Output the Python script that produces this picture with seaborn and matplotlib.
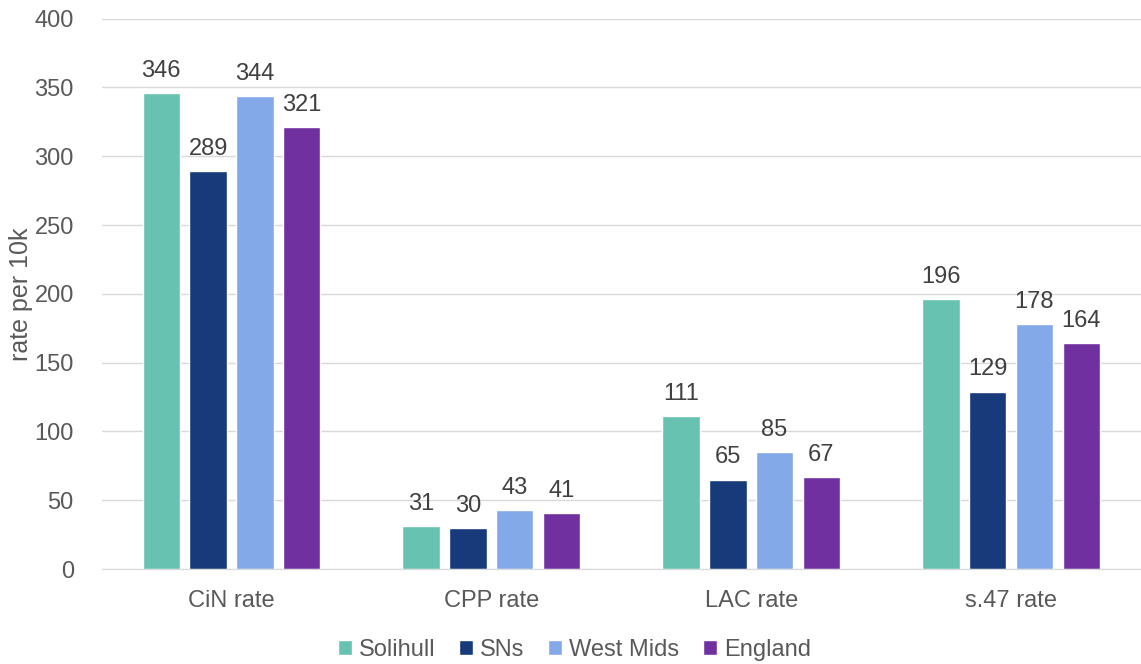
import matplotlib
matplotlib.use("Agg")
import matplotlib.pyplot as plt
import seaborn as sns
import pandas as pd

categories = ["CiN rate", "CPP rate", "LAC rate", "s.47 rate"]
series = ["Solihull", "SNs", "West Mids", "England"]
solihull = [346, 31, 111, 196]
sns_vals = [289, 30, 65, 129]
west_mids = [344, 43, 85, 178]
england = [321, 41, 67, 164]
colors = ["#68c2b1", "#163a7a", "#84a9e8", "#7030a0"]

rows = []
for name, vals in zip(series, [solihull, sns_vals, west_mids, england]):
    for cat, v in zip(categories, vals):
        rows.append({"category": cat, "series": name, "value": v})
df = pd.DataFrame(rows)

sns.set_style("white")
plt.rcParams["font.family"] = ["Liberation Sans", "DejaVu Sans"]

fig, ax = plt.subplots(figsize=(11.41, 6.64), dpi=100)
fig.subplots_adjust(left=0.089, right=1.0, top=0.972, bottom=0.143)

sns.barplot(data=df, x="category", y="value", hue="series", hue_order=series,
            palette=colors, width=0.72, gap=0.2, saturation=1, ax=ax)

for c in ax.containers:
    ax.bar_label(c, fmt="%d", padding=8, fontsize=17, color="#404040")

ax.set_ylim(0, 400)
ax.set_yticks(range(0, 401, 50))
ax.yaxis.grid(True, color="#d9d9d9", linewidth=1)
ax.set_axisbelow(True)
for s in ["top", "right", "left"]:
    ax.spines[s].set_visible(False)
ax.spines["bottom"].set_color("#d9d9d9")
ax.tick_params(axis="both", length=0, labelsize=17, labelcolor="#595959")
ax.tick_params(axis="x", pad=15)
ax.tick_params(axis="y", pad=20)
ax.set_xlabel("")
ax.set_ylabel("rate per 10k", fontsize=18, color="#595959")
ax.yaxis.set_label_coords(-0.066, 0.5)

ax.legend(loc="lower center", bbox_to_anchor=(0.455, -0.205), ncol=4, frameon=False,
          fontsize=17, handlelength=0.6, handleheight=0.6, handletextpad=0.3,
          columnspacing=1.0, labelcolor="#595959")

fig.savefig("out.png", dpi=100)
